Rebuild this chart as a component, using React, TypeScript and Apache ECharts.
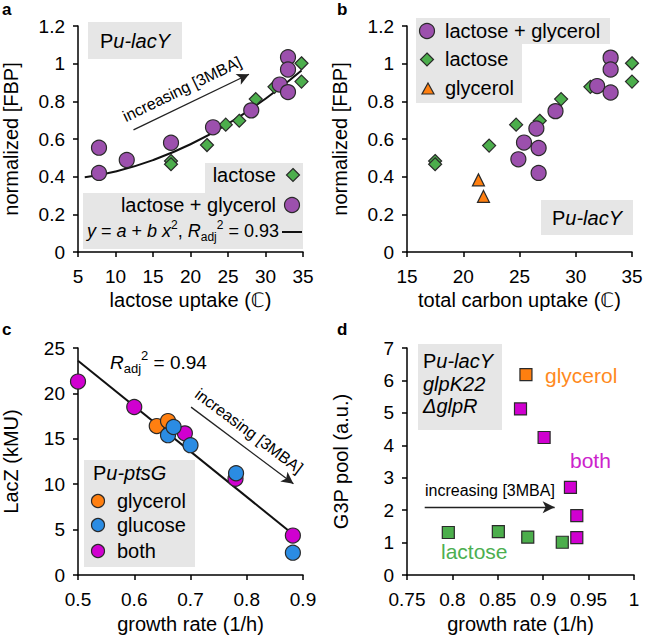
import React, { useEffect, useRef } from "react";
import * as echarts from "echarts";

const FONT = "'Liberation Sans', Arial, 'DejaVu Sans', sans-serif";

// Panel a: lactose uptake vs normalized FBP
const aLacGly = [[7.8, 0.554], [7.8, 0.42], [11.5, 0.489], [17.4, 0.58], [23.0, 0.662], [28.1, 0.752], [31.9, 0.889], [33.0, 1.034], [33.0, 0.969], [33.0, 0.849]];
const aLactose = [[17.4, 0.483], [17.4, 0.466], [22.2, 0.568], [24.7, 0.676], [26.5, 0.697], [28.7, 0.812], [31.2, 0.877], [34.8, 1.002], [34.8, 0.905]];
const aFit = [[5.9, 0.397], [10, 0.427], [15, 0.488], [20, 0.572], [25, 0.681], [30, 0.814], [34.8, 0.964]];
const aArrow = [[12.4, 0.648], [27.8, 0.944]];

// Panel b: total carbon uptake vs normalized FBP
const bLacGly = [[24.9, 0.492], [25.4, 0.581], [26.5, 0.656], [26.7, 0.552], [26.7, 0.42], [28.2, 0.748], [31.9, 0.881], [33.1, 1.032], [33.1, 0.969], [33.1, 0.847]];
const bLactose = [[17.5, 0.483], [17.5, 0.466], [22.3, 0.565], [24.7, 0.676], [26.8, 0.697], [28.7, 0.812], [31.3, 0.877], [35.0, 1.002], [35.0, 0.905]];
const bGlycerol = [[21.35, 0.383], [21.8, 0.295]];

// Panel c: growth rate vs LacZ
const cGlycerol = [[0.64, 16.4], [0.66, 16.95]];
const cGlucose = [[0.66, 15.4], [0.67, 16.3], [0.70, 14.3], [0.781, 11.2], [0.882, 2.46]];
const cBoth = [[0.5, 21.3], [0.6, 18.5], [0.69, 15.6], [0.78, 10.6], [0.882, 4.34]];
const cFit = [[0.5, 23.6], [0.88, 4.6]];
const cArrow = [[0.701, 18.49], [0.883, 10.04]];

// Panel d: growth rate vs G3P pool
const dGlycerol = [[0.881, 6.18]];
const dBoth = [[0.875, 5.12], [0.901, 4.24], [0.930, 2.70], [0.937, 1.83], [0.937, 1.15]];
const dLactose = [[0.7955, 1.31], [0.8506, 1.34], [0.883, 1.17], [0.921, 1.01]];
const dArrow = [[0.7695, 2.09], [0.9126, 2.09]];

const PURPLE = "#9c50ad";
const GREEN = "#4cae4c";
const ORANGE = "#ff7f10";
const BLUE = "#2b8ce3";
const MAGENTA = "#d000d0";
const BOX = "#e6e6e6";
const EDGE = "#2a2a2a";

function axis(extra: any, margin: number) {
  return {
    nameLocation: "middle",
    nameTextStyle: { color: "#000", fontSize: 20, fontFamily: FONT },
    axisLine: { show: true, onZero: false, lineStyle: { color: "#000", width: 1.5 } },
    axisTick: { show: true, inside: false, length: 5, lineStyle: { color: "#000", width: 1.5 } },
    axisLabel: { color: "#000", fontSize: 19, margin, fontFamily: FONT },
    splitLine: { show: false },
    ...extra,
  };
}

function arrowLine(pts: number[][]) {
  return {
    silent: true,
    symbol: ["none", "arrow"],
    symbolSize: [9, 12],
    label: { show: false },
    lineStyle: { color: "#222", width: 1.3, type: "solid" },
    data: [[{ coord: pts[0] }, { coord: pts[1] }]],
  };
}

function scatter(name: string, data: number[][], xi: number, symbol: string, size: number, color: string, extra: any = {}) {
  return {
    type: "scatter",
    name,
    xAxisIndex: xi,
    yAxisIndex: xi,
    data,
    symbol,
    symbolSize: size,
    itemStyle: { color, borderColor: EDGE, borderWidth: 1.2, opacity: 1 },
    z: 3,
    ...extra,
  };
}

function txt(x: number, y: number, text: string, opts: any = {}) {
  return {
    type: "text",
    x,
    y,
    rotation: opts.rotation || 0,
    z: 10,
    style: {
      text,
      x: 0,
      y: 0,
      fill: opts.fill || "#000",
      fontSize: opts.fontSize || 20,
      fontFamily: FONT,
      fontWeight: opts.fontWeight || "normal",
      fontStyle: opts.fontStyle || "normal",
      textAlign: opts.align || "left",
      textVerticalAlign: opts.valign || "middle",
      rich: opts.rich,
      lineHeight: opts.lineHeight,
    },
  };
}

function rect(x: number, y: number, w: number, h: number) {
  return { type: "rect", z: 1, shape: { x, y, width: w, height: h }, style: { fill: BOX } };
}

const richIt = {
  n: { fontSize: 20, fontFamily: FONT },
  i: { fontSize: 20, fontFamily: FONT, fontStyle: "italic" },
};

export default function App() {
  const ref = useRef<HTMLDivElement>(null);
  useEffect(() => {
    document.body.style.margin = "0";
    const chart = echarts.init(ref.current!, null, { renderer: "svg" });
    const option: any = {
      animation: false,
      backgroundColor: "#fff",
      textStyle: { fontFamily: FONT },
      grid: [
        { left: 77, top: 26, width: 226, height: 226 },
        { left: 407, top: 26, width: 225, height: 226 },
        { left: 77, top: 348, width: 226, height: 227 },
        { left: 407, top: 348, width: 227, height: 227 },
      ],
      xAxis: [
        axis({ gridIndex: 0, type: "value", min: 5, max: 35, interval: 5, name: "lactose uptake (ℂ)", nameGap: 38 }, 15),
        axis({ gridIndex: 1, type: "value", min: 15, max: 35, interval: 5, name: "total carbon uptake (ℂ)", nameGap: 38 }, 15),
        axis({ gridIndex: 2, type: "value", min: 0.5, max: 0.9, interval: 0.1, name: "growth rate (1/h)", nameGap: 39 }, 15),
        axis({ gridIndex: 3, type: "value", min: 0.75, max: 1, interval: 0.05, name: "growth rate (1/h)", nameGap: 39 }, 15),
      ],
      yAxis: [
        axis({ gridIndex: 0, type: "value", min: 0, max: 1.2, interval: 0.2, name: "normalized [FBP]", nameGap: 57 }, 13),
        axis({ gridIndex: 1, type: "value", min: 0, max: 1.2, interval: 0.2, name: "normalized [FBP]", nameGap: 57 }, 13),
        axis({ gridIndex: 2, type: "value", min: 0, max: 25, interval: 5, name: "LacZ (kMU)", nameGap: 57 }, 13),
        axis({ gridIndex: 3, type: "value", min: 0, max: 7, interval: 1, name: "G3P pool (a.u.)", nameGap: 56 }, 13),
      ],
      series: [
        {
          type: "line", xAxisIndex: 0, yAxisIndex: 0, data: aFit, smooth: true, symbol: "none",
          lineStyle: { color: "#111", width: 2 }, z: 2, markLine: arrowLine(aArrow),
        },
        scatter("lactose", aLactose, 0, "diamond", 13, GREEN),
        scatter("lactose + glycerol", aLacGly, 0, "circle", 15, PURPLE),

        scatter("lactose", bLactose, 1, "diamond", 13, GREEN),
        scatter("lactose + glycerol", bLacGly, 1, "circle", 15, PURPLE),
        scatter("glycerol", bGlycerol, 1, "triangle", 12, ORANGE),

        {
          type: "line", xAxisIndex: 2, yAxisIndex: 2, data: cFit, symbol: "none",
          lineStyle: { color: "#111", width: 2 }, z: 2, markLine: arrowLine(cArrow),
        },
        scatter("both", cBoth, 2, "circle", 15, MAGENTA),
        scatter("glycerol", cGlycerol, 2, "circle", 15, ORANGE),
        scatter("glucose", cGlucose, 2, "circle", 15, BLUE),

        scatter("lactose", dLactose, 3, "rect", 12, GREEN, { markLine: arrowLine(dArrow) }),
        scatter("both", dBoth, 3, "rect", 12, MAGENTA),
        scatter("glycerol", dGlycerol, 3, "rect", 12, ORANGE),
      ],
      graphic: [
        // panel letters
        txt(2, 9, "a", { fontWeight: "bold", fontSize: 17 }),
        txt(337, 9, "b", { fontWeight: "bold", fontSize: 17 }),
        txt(2, 329, "c", { fontWeight: "bold", fontSize: 17 }),
        txt(337, 329, "d", { fontWeight: "bold", fontSize: 17 }),

        // panel a
        rect(88, 22, 94, 37),
        txt(135, 41, "{n|P}{i|u-lacY}", { align: "center", rich: richIt }),
        txt(182, 89, "increasing [3MBA]", { align: "center", fontSize: 16, rotation: 0.45 }),
        rect(205, 163, 98, 30),
        rect(83, 193, 220, 56),
        txt(276, 175, "lactose", { align: "right" }),
        { type: "polygon", z: 11, shape: { points: [[293, 168.5], [299.5, 175], [293, 181.5], [286.5, 175]] }, style: { fill: GREEN, stroke: EDGE, lineWidth: 1.2 } },
        txt(276, 205, "lactose + glycerol", { align: "right" }),
        { type: "circle", z: 11, shape: { cx: 292, cy: 205, r: 7.5 }, style: { fill: PURPLE, stroke: EDGE, lineWidth: 1.2 } },
        txt(279, 231, "{i|y} = {i|a} + {i|b} {i|x}{sup|2}, {i|R}{sub|adj}{sup|2} = 0.93", {
          align: "right", fontSize: 18, lineHeight: 24,
          rich: {
            i: { fontSize: 18, fontStyle: "italic", fontFamily: FONT, lineHeight: 24 },
            sup: { fontSize: 12, fontFamily: FONT, verticalAlign: "top", lineHeight: 14 },
            sub: { fontSize: 12, fontFamily: FONT, verticalAlign: "bottom", lineHeight: 14 },
          },
        }),
        { type: "line", z: 11, shape: { x1: 282, y1: 232, x2: 302, y2: 232 }, style: { stroke: "#111", lineWidth: 2 } },

        // panel b
        rect(416, 18, 194, 26),
        rect(416, 44, 106, 59),
        { type: "circle", z: 11, shape: { cx: 427, cy: 31, r: 7.5 }, style: { fill: PURPLE, stroke: EDGE, lineWidth: 1.2 } },
        txt(445, 31, "lactose + glycerol"),
        { type: "polygon", z: 11, shape: { points: [[427, 53], [433.5, 59.5], [427, 66], [420.5, 59.5]] }, style: { fill: GREEN, stroke: EDGE, lineWidth: 1.2 } },
        txt(445, 59, "lactose"),
        { type: "polygon", z: 11, shape: { points: [[428, 83], [434, 94], [422, 94]] }, style: { fill: ORANGE, stroke: EDGE, lineWidth: 1.2 } },
        txt(445, 88, "glycerol"),
        rect(541, 200, 92, 35),
        txt(587, 218, "{n|P}{i|u-lacY}", { align: "center", rich: richIt }),

        // panel c
        txt(110, 362, "{i|R}{sub|adj}{sup|2} = 0.94", {
          fontSize: 19, lineHeight: 26,
          rich: {
            i: { fontSize: 19, fontStyle: "italic", fontFamily: FONT, lineHeight: 26 },
            sup: { fontSize: 13, fontFamily: FONT, verticalAlign: "top", lineHeight: 15 },
            sub: { fontSize: 13, fontFamily: FONT, verticalAlign: "bottom", lineHeight: 15 },
          },
        }),
        txt(249, 431, "increasing [3MBA]", { align: "center", fontSize: 16, rotation: -0.642 }),
        rect(84, 460, 111, 107),
        txt(93, 473, "{n|P}{i|u-ptsG}", { rich: richIt }),
        { type: "circle", z: 11, shape: { cx: 98, cy: 501, r: 6.5 }, style: { fill: ORANGE, stroke: EDGE, lineWidth: 1.2 } },
        txt(117, 501, "glycerol"),
        { type: "circle", z: 11, shape: { cx: 98, cy: 525, r: 6.5 }, style: { fill: BLUE, stroke: EDGE, lineWidth: 1.2 } },
        txt(117, 525, "glucose"),
        { type: "circle", z: 11, shape: { cx: 98, cy: 551, r: 6.5 }, style: { fill: MAGENTA, stroke: EDGE, lineWidth: 1.2 } },
        txt(117, 551, "both"),

        // panel d
        rect(418, 344, 84, 86),
        txt(423, 361, "{n|P}{i|u-lacY}", { rich: richIt }),
        txt(423, 384, "glpK22", { fontStyle: "italic" }),
        txt(423, 406, "ΔglpR", { fontStyle: "italic" }),
        txt(545, 375, "glycerol", { fill: "#ff8a1e", fontSize: 21 }),
        txt(570, 460, "both", { fill: "#cc22cc", fontSize: 21 }),
        txt(441, 551, "lactose", { fill: "#4caf50", fontSize: 21 }),
        txt(425, 490, "increasing [3MBA]", { fontSize: 16 }),
      ],
    };
    chart.setOption(option);
    return () => chart.dispose();
  }, []);
  return <div ref={ref} style={{ position: "fixed", left: 0, top: 0, width: 649, height: 636 }} />;
}
